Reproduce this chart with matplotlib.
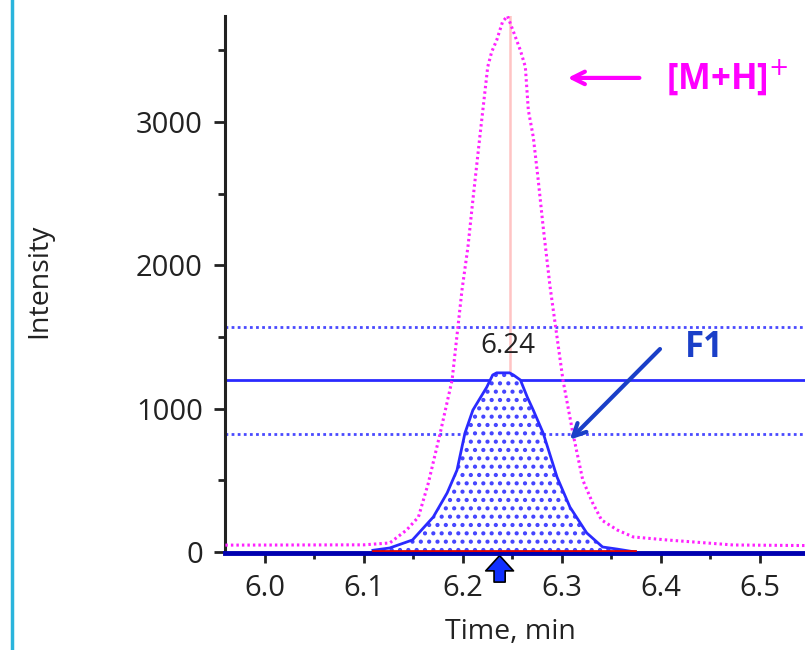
import matplotlib
matplotlib.use('Agg')
import matplotlib.pyplot as plt
from matplotlib.lines import Line2D
from matplotlib.ticker import MultipleLocator

plt.rcParams['font.family'] = ['Open Sans', 'DejaVu Sans']
plt.rcParams['hatch.linewidth'] = 1.8

# [M+H]+ trace (magenta, dotted)
mh_time = [5.96, 6.10, 6.126, 6.143, 6.155, 6.165, 6.177, 6.189, 6.199, 6.205,
           6.210, 6.217, 6.225, 6.229, 6.234, 6.240, 6.245, 6.251, 6.258, 6.263,
           6.266, 6.271, 6.276, 6.281, 6.288, 6.301, 6.311, 6.321, 6.331, 6.340,
           6.356, 6.372, 6.406, 6.473, 6.546]
mh_int = [48, 50, 63, 153, 244, 481, 830, 1200, 1828, 2128,
          2456, 2896, 3385, 3490, 3570, 3700, 3740, 3630, 3500, 3385,
          3084, 2896, 2596, 2268, 1849, 1200, 830, 502, 342, 223,
          153, 105, 84, 49, 45]

# F1 trace (blue, integrated peak)
f1_time = [6.109, 6.126, 6.149, 6.170, 6.184, 6.194, 6.202, 6.210, 6.224, 6.230,
           6.234, 6.247, 6.251, 6.258, 6.265, 6.271, 6.281, 6.295, 6.308, 6.325,
           6.341, 6.356, 6.374]
f1_int = [12, 28, 84, 244, 412, 572, 830, 990, 1150, 1235,
          1250, 1250, 1235, 1200, 1080, 990, 830, 523, 314, 133,
          35, 20, 0]

apex_time = 6.247
apex_label = '6.24'
levels_dotted = [1570, 825]
level_solid = 1200
peak_start, peak_end = 6.109, 6.374

fig = plt.figure(figsize=(8.05, 6.5), dpi=100)
ax = fig.add_axes([225 / 805, 98 / 650, 580 / 805, 536 / 650])

xmin, xmax = 5.9596, 6.5455
ax.set_xlim(xmin, xmax)
ax.set_ylim(0, 3740)

for lv in levels_dotted:
    ax.axhline(lv, color='#4a4aff', lw=2, ls=(0, (1, 1.2)), zorder=2)
ax.axhline(level_solid, color='#2a2aff', lw=2, zorder=2)

ax.axvline(apex_time, color='#ffc4c4', lw=1.8, zorder=1)

ax.plot(mh_time, mh_int, color='#ff22ff', lw=2.2, ls=(0, (0.8, 1.0)), zorder=3)

ax.fill_between(f1_time, f1_int, 0, facecolor='white', edgecolor='#4444ff',
                hatch='..', lw=0, zorder=2)
ax.plot(f1_time, f1_int, color='#2a2aff', lw=2, zorder=4)

ax.plot([xmin, xmax], [-6, -6], color='#0000b0', lw=3.5, zorder=4, clip_on=False)
ax.plot([peak_start, peak_end], [6, 6], color='#e00000', lw=2, zorder=5)

ax.text(apex_time - 0.002, 1340, apex_label, ha='center', va='bottom',
        fontsize=20, color='#222222', zorder=6)

ax.annotate('', xy=(6.237, -25), xytext=(6.237, -210),
            arrowprops=dict(arrowstyle='simple,head_width=1.0,head_length=0.55,tail_width=0.4',
                            fc='#1030ff', ec='black', lw=1.2, mutation_scale=20,
                            shrinkA=0, shrinkB=0),
            annotation_clip=False)

# F1 callout
ax.annotate('', xy=(6.306, 770), xytext=(6.401, 1430),
            arrowprops=dict(arrowstyle='->,head_width=0.45,head_length=0.9',
                            color='#1a3fc8', lw=3))
ax.text(6.444, 1424, 'F1', ha='center', va='center', fontsize=25,
        fontweight='bold', color='#1a3fc8')

# [M+H]+ callout
ax.annotate('', xy=(6.303, 3308), xytext=(6.381, 3308),
            arrowprops=dict(arrowstyle='->,head_width=0.45,head_length=0.9',
                            color='#ff00ff', lw=3))
ax.text(6.405, 3308, '[M+H]$^{+}$', ha='left', va='center', fontsize=25,
        fontweight='bold', color='#ff00ff')

ax.spines['top'].set_visible(False)
ax.spines['right'].set_visible(False)
ax.spines['left'].set_linewidth(2.2)
ax.spines['left'].set_color('#222222')
ax.spines['bottom'].set_visible(False)

ax.xaxis.set_major_locator(MultipleLocator(0.1))
ax.xaxis.set_minor_locator(MultipleLocator(0.05))
ax.yaxis.set_major_locator(MultipleLocator(1000))
ax.yaxis.set_minor_locator(MultipleLocator(500))
ax.tick_params(axis='both', which='major', length=8, width=2, color='#222222',
               labelsize=21, labelcolor='#222222')
ax.tick_params(axis='both', which='minor', length=5, width=2, color='#222222')
ax.tick_params(axis='x', which='both', pad=8)
ax.tick_params(axis='y', which='major', pad=8)
ax.set_xticks([6.0, 6.1, 6.2, 6.3, 6.4, 6.5])
ax.set_xticklabels(['6.0', '6.1', '6.2', '6.3', '6.4', '6.5'])

ax.set_xlabel('Time, min', fontsize=20.5, color='#222222')
ax.xaxis.set_label_coords((510 - 225) / 580, (552 - 618) / 536)
ax.set_ylabel('Intensity', fontsize=20.5, color='#222222')
ax.yaxis.set_label_coords((53 - 225) / 580, (552 - 281) / 536)

# screenshot frame edge on the left
fig.add_artist(Line2D([12 / 805, 12 / 805], [0, 1], color='#2ab4dc', lw=2.5,
                      transform=fig.transFigure))

fig.savefig('out.png', dpi=100)
